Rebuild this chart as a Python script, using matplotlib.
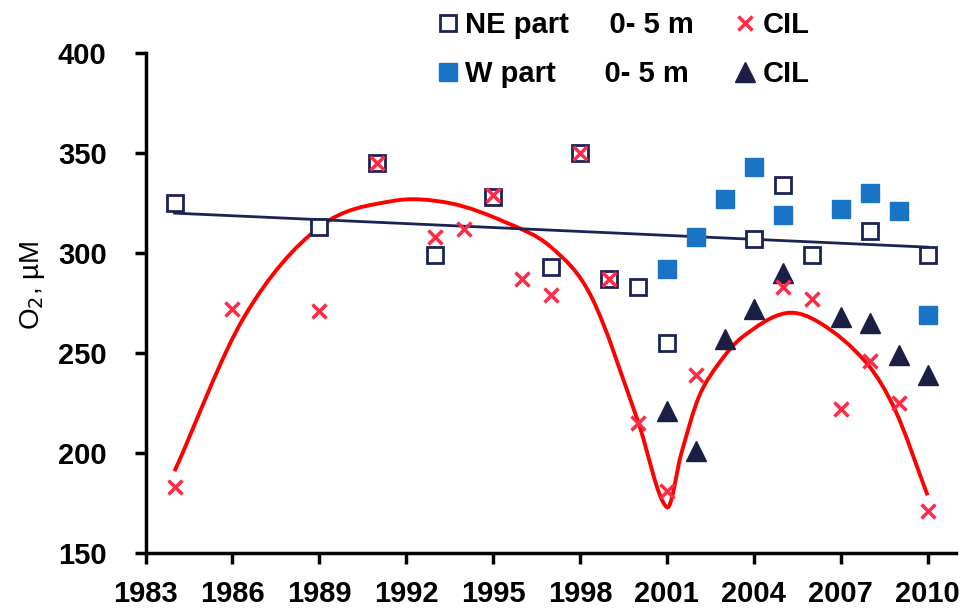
import numpy as np
import matplotlib
matplotlib.use("Agg")
import matplotlib.pyplot as plt
from matplotlib.path import Path
from matplotlib.patches import PathPatch
from matplotlib.lines import Line2D

plt.rcParams["font.family"] = ["Liberation Sans", "DejaVu Sans"]

# NE part, 0-5 m (open squares)
ne_years = [1984, 1989, 1991, 1993, 1995, 1997, 1998, 1999, 2000, 2001,
            2004, 2005, 2006, 2008, 2010]
ne_surf = [325, 313, 345, 299, 328, 293, 350, 287, 283, 255,
           307, 334, 299, 311, 299]

# NE part, CIL (red crosses)
ne_cil_years = [1984, 1986, 1989, 1991, 1993, 1994, 1995, 1996, 1997, 1998,
                1999, 2000, 2001, 2002, 2005, 2006, 2007, 2008, 2009, 2010]
ne_cil = [183, 272, 271, 345, 308, 312, 329, 287, 279, 350,
          287, 215, 181, 239, 283, 277, 222, 246, 225, 171]

# W part, 0-5 m (filled squares)
w_years = [2001, 2002, 2003, 2004, 2005, 2007, 2008, 2009, 2010]
w_surf = [292, 308, 327, 343, 319, 322, 330, 321, 269]

# W part, CIL (triangles)
w_cil_years = [2001, 2002, 2003, 2004, 2005, 2007, 2008, 2009, 2010]
w_cil = [221, 201, 257, 272, 290, 268, 265, 249, 239]

# linear trend of NE surface data (end points)
trend_years = [1984, 2010]
trend_vals = [320, 303]

# smoothed red curve, knots
curve_years = [1984, 1986.4, 1989, 1991.5, 1993.5, 1995.5, 1997, 1998.4,
               2000, 2001, 2001.5, 2002.1, 2002.8, 2003.6, 2005.1, 2006.3,
               2007.9, 2008.9, 2010]
curve_vals = [191, 268, 313, 326, 325, 315, 303, 278,
              216, 173, 200, 228, 245, 258, 270, 265,
              245, 221, 179]

RED = "#FF0000"
CROSS = "#FF2A45"
NAVY = "#1B2355"
BLUE = "#1A74C6"
TRI = "#1C1E45"


def smooth_path(xs, ys):
    # cubic hermite through the knots, slopes from the neighbouring knots
    x = np.asarray(xs, float)
    y = np.asarray(ys, float)
    n = len(x)
    m = np.empty(n)
    m[0] = (y[1] - y[0]) / (x[1] - x[0])
    m[-1] = (y[-1] - y[-2]) / (x[-1] - x[-2])
    for i in range(1, n - 1):
        m[i] = (y[i + 1] - y[i - 1]) / (x[i + 1] - x[i - 1])
    verts = [(x[0], y[0])]
    codes = [Path.MOVETO]
    for i in range(n - 1):
        h = x[i + 1] - x[i]
        verts += [(x[i] + h / 3, y[i] + m[i] * h / 3),
                  (x[i + 1] - h / 3, y[i + 1] - m[i + 1] * h / 3),
                  (x[i + 1], y[i + 1])]
        codes += [Path.CURVE4] * 3
    return Path(verts, codes)


fig = plt.figure(figsize=(9.77, 6.10), dpi=100)
ax = fig.add_axes([0.149, 0.093, 0.83, 0.82])

ax.add_patch(PathPatch(smooth_path(curve_years, curve_vals), facecolor="none",
                       edgecolor=RED, linewidth=2.8, zorder=2))
ax.plot(trend_years, trend_vals, color=NAVY, linewidth=2, zorder=2)

ax.plot(ne_years, ne_surf, linestyle="none", marker="s", markersize=11.5,
        markerfacecolor="white", markeredgecolor=NAVY, markeredgewidth=2, zorder=3)
ax.plot(w_years, w_surf, linestyle="none", marker="s", markersize=13,
        color=BLUE, zorder=3)
ax.plot(w_cil_years, w_cil, linestyle="none", marker="^", markersize=14,
        color=TRI, zorder=4)
ax.plot(ne_cil_years, ne_cil, linestyle="none", marker="x", markersize=10,
        markeredgewidth=2.5, color=CROSS, zorder=5)

ax.set_xlim(1983, 2011)
ax.set_ylim(150, 400)
ax.set_xticks(np.arange(1983, 2011, 3))
ax.set_yticks(np.arange(150, 401, 50))
for s in ["top", "right"]:
    ax.spines[s].set_visible(False)
for s in ["left", "bottom"]:
    ax.spines[s].set_linewidth(2.5)
ax.tick_params(direction="out", length=8, width=2.5, labelsize=21)
ax.tick_params(axis="x", pad=11)
ax.tick_params(axis="y", pad=20)
for lab in ax.get_xticklabels() + ax.get_yticklabels():
    lab.set_fontweight("bold")
ax.set_ylabel("O$_2$, µM", fontsize=20)
ax.yaxis.set_label_coords(-0.122, 0.535)

handles = [
    Line2D([], [], linestyle="none", marker="s", markersize=12, markerfacecolor="white",
           markeredgecolor=NAVY, markeredgewidth=2),
    Line2D([], [], linestyle="none", marker="s", markersize=13, color=BLUE),
    Line2D([], [], linestyle="none", marker="x", markersize=10, markeredgewidth=2.5, color=CROSS),
    Line2D([], [], linestyle="none", marker="^", markersize=14, color=TRI),
]
labels = ["NE part     0- 5 m", "W part      0- 5 m", "CIL", "CIL"]
fig.legend(handles, labels, loc="upper left", bbox_to_anchor=(0.421, 1.025), ncol=2,
           frameon=False, prop={"size": 21, "weight": "bold"}, handlelength=0.7,
           handletextpad=0.25, columnspacing=1.4, labelspacing=0.72)

fig.savefig("out.png", dpi=100)
